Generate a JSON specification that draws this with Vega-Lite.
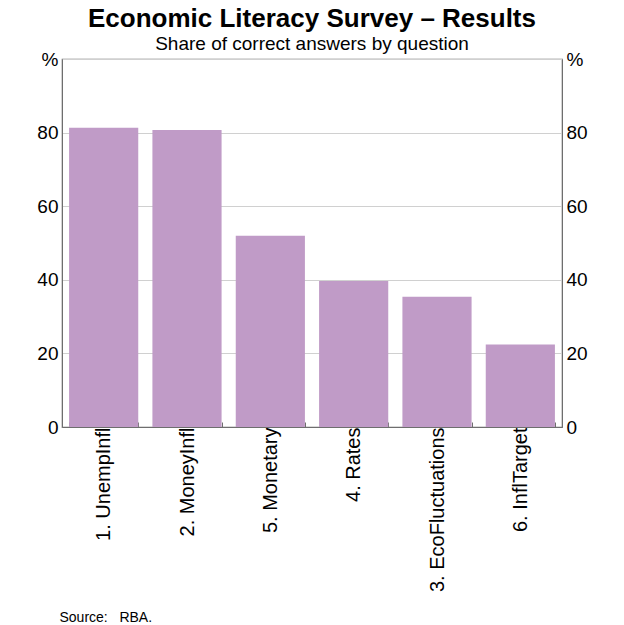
{
  "$schema": "https://vega.github.io/schema/vega-lite/v6.json",
  "autosize": {"type": "none"},
  "padding": {"top": 59, "left": 62, "right": 62, "bottom": 198},
  "width": 500,
  "height": 368,
  "background": "white",
  "config": {
    "font": "Liberation Sans",
    "view": {"stroke": "#6e6e6e", "strokeWidth": 1.2},
    "axis": {"labelFont": "Liberation Sans", "labelFontSize": 19, "labelColor": "#000", "domainColor": "#6e6e6e", "tickColor": "#6e6e6e"}
  },
  "title": {
    "text": "Economic Literacy Survey – Results",
    "subtitle": "Share of correct answers by question",
    "anchor": "middle",
    "frame": "group",
    "font": "Liberation Sans",
    "fontSize": 26,
    "fontWeight": "bold",
    "color": "#000",
    "subtitleFont": "Liberation Sans",
    "subtitleFontSize": 19,
    "subtitleColor": "#000",
    "subtitlePadding": 3,
    "offset": -4
  },
  "data": {
    "values": [
      {"question": "1. UnempInfl", "share": 81.3},
      {"question": "2. MoneyInfl", "share": 80.7},
      {"question": "5. Monetary", "share": 52.0},
      {"question": "4. Rates", "share": 39.7},
      {"question": "3. EcoFluctuations", "share": 35.4},
      {"question": "6. InflTarget", "share": 22.4}
    ]
  },
  "layer": [
    {
      "mark": {"type": "bar", "color": "#c09bc7"},
      "encoding": {
        "x": {
          "field": "question", "type": "nominal", "sort": null,
          "scale": {"paddingInner": 0.17, "paddingOuter": 0.085},
          "axis": {
            "labelAngle": -90, "labelAlign": "right", "labelBaseline": "middle", "labelPadding": 5, "labelFontSize": 20,
            "tickBand": "extent", "tickSize": -5, "domain": true,
            "title": "Source:\u00a0\u00a0\u00a0RBA.", "titleFont": "Liberation Sans", "titleFontSize": 14, "titleFontWeight": "normal",
            "titleColor": "#000", "titleAnchor": "start", "titleAlign": "left", "titleX": -3, "titleY": 194, "titleBaseline": "alphabetic"
          }
        },
        "y": {
          "field": "share", "type": "quantitative",
          "scale": {"domain": [0, 100], "nice": false},
          "axis": {
            "orient": "left", "values": [0, 20, 40, 60, 80, 100], "title": null, "ticks": false, "labelPadding": 4,
            "labelExpr": "datum.value == 100 ? '%' : datum.label",
            "grid": true, "gridColor": "#d0d0d0", "gridWidth": 1
          }
        }
      }
    },
    {
      "mark": {"type": "bar", "opacity": 0},
      "encoding": {
        "x": {"field": "question", "type": "nominal", "sort": null},
        "y": {
          "field": "share", "type": "quantitative",
          "scale": {"domain": [0, 100], "nice": false},
          "axis": {
            "orient": "right", "values": [0, 20, 40, 60, 80, 100], "title": null, "ticks": false, "labelPadding": 4,
            "labelExpr": "datum.value == 100 ? '%' : datum.label", "grid": false
          }
        }
      }
    }
  ],
  "resolve": {"scale": {"y": "independent"}, "axis": {"y": "independent"}}
}
